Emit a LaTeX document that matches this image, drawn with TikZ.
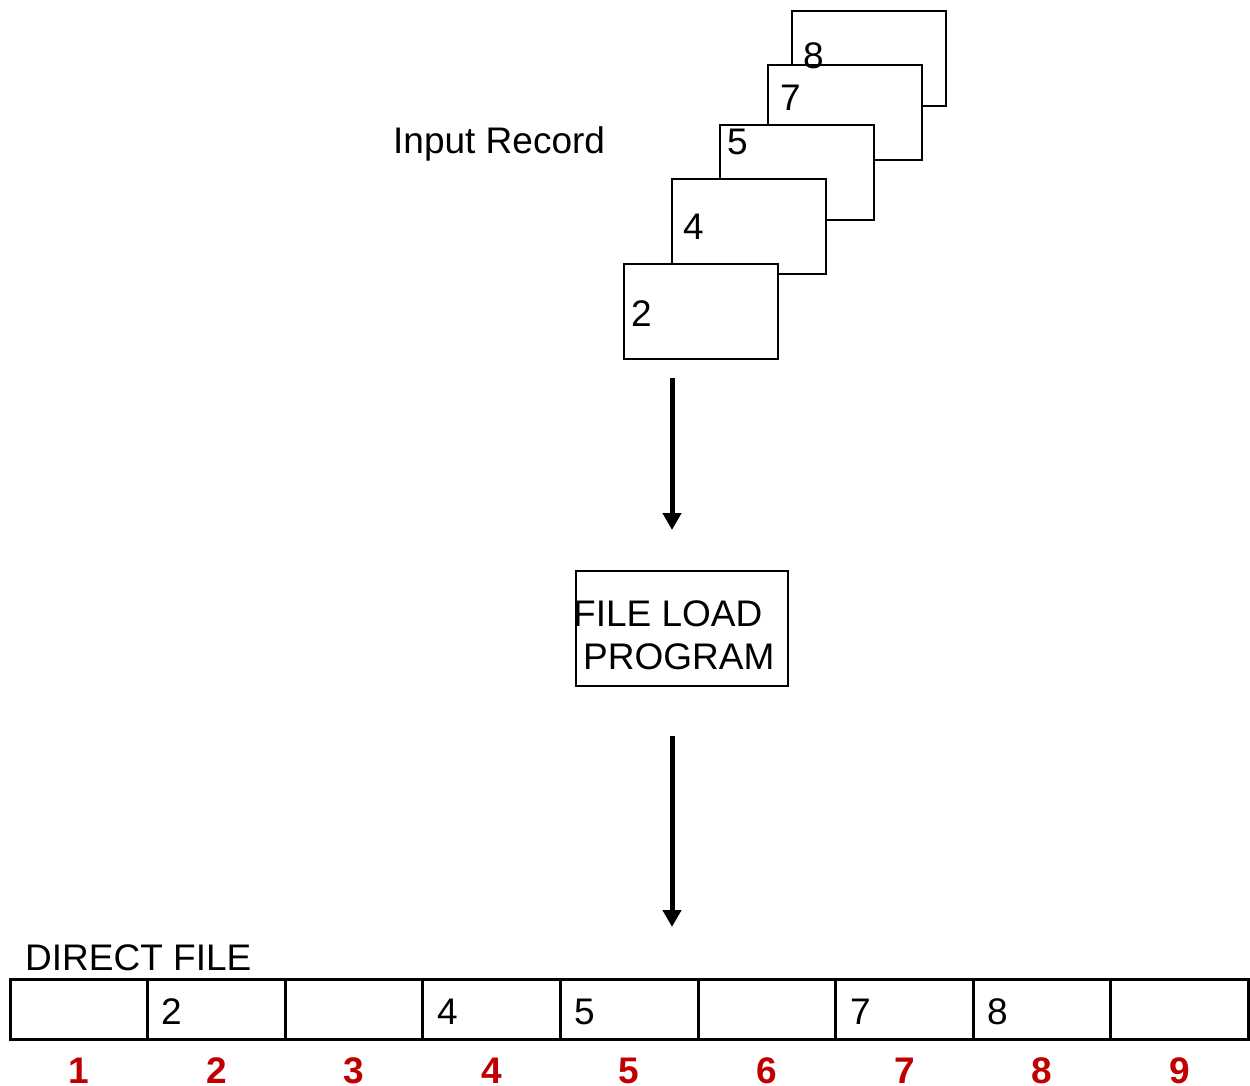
\documentclass[tikz,border=0pt]{standalone}
\usepackage{fontspec}
\setmainfont{Liberation Sans}
\usetikzlibrary{arrows.meta}
\definecolor{idxred}{RGB}{192,0,0}
\begin{document}
\begin{tikzpicture}[x=1pt,y=-1pt,
  card/.style={draw,line width=2pt,fill=white,minimum width=154pt,minimum height=95pt,anchor=north west,inner sep=0pt,outer sep=0pt},
  cell/.style={draw,line width=3pt,minimum width=137.6pt,minimum height=60pt,anchor=north west,inner sep=0pt,outer sep=0pt},
  txt/.style={font=\fontsize{37}{40}\selectfont,inner sep=0pt,anchor=base west},
  idx/.style={font=\fontsize{37}{40}\selectfont\bfseries,text=idxred,inner sep=0pt,anchor=base},
  flow/.style={line width=5pt,-{Triangle[length=17pt,width=18pt]}}]
\useasboundingbox (0,0) rectangle (1250,1086);

% stacked input records, back to front
\node[card] (r8) at (792,11) {};
\node[card] (r7) at (768,65) {};
\node[card] (r5) at (720,125) {};
\node[card] (r4) at (672,179) {};
\node[card] (r2) at (624,264) {};
\node[txt] (l8) at (803,69) {8};
\node[txt] (l7) at (780,111) {7};
\node[txt] (l5) at (727,155) {5};
\node[txt] (l4) at (683,240) {4};
\node[txt] (l2) at (631,326) {2};
\node[txt] (inrec) at (393,154) {Input Record};

% load program
\node[draw,line width=2pt,minimum width=212pt,minimum height=115pt,anchor=north west,inner sep=0pt,outer sep=0pt] (prog) at (576,571) {};
\node[txt] (p1) at (573,626) {FILE LOAD};
\node[txt] (p2) at (583,669) {PROGRAM};

% flow arrows
\coordinate (a1s) at (672,378);
\coordinate (a1e) at (672,530);
\coordinate (a2s) at (672,736);
\coordinate (a2e) at (672,927);
\draw[flow] (a1s) -- (a1e);
\draw[flow] (a2s) -- (a2e);

% direct file slots
\node[txt] (dfile) at (25,970) {DIRECT FILE};
\foreach \i in {1,...,9} {
  \node[cell] (c\i) at ({10+(\i-1)*137.6},979) {};
  \node[idx] (n\i) at ({10+(\i-0.5)*137.6},1083) {\i};
}
\node[txt] (s2) at (161,1024) {2};
\node[txt] (s4) at (437,1024) {4};
\node[txt] (s5) at (574,1024) {5};
\node[txt] (s7) at (850,1024) {7};
\node[txt] (s8) at (987,1024) {8};
\end{tikzpicture}
\end{document}
